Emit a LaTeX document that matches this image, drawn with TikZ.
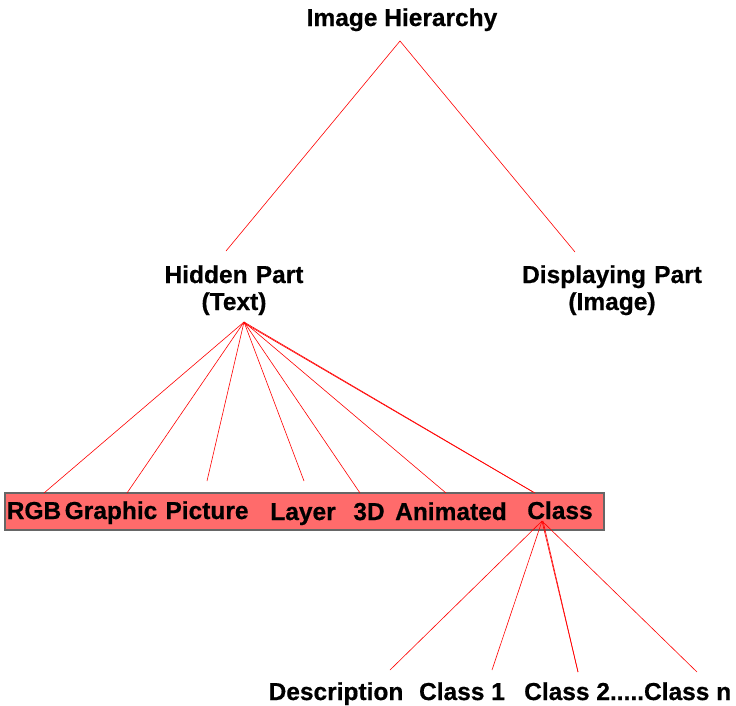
\documentclass[tikz,border=0pt]{standalone}
\usepackage{fontspec}
\setmainfont[BoldFeatures={FakeBold=0.6}]{Liberation Sans}
\begin{document}
\begin{tikzpicture}[x=1pt,y=-1pt,
  lbl/.style={font=\bfseries\fontsize{24.5}{27}\selectfont, inner sep=0pt, align=center, anchor=base},
  conn/.style={draw=red, line width=0.6pt}]
\useasboundingbox (0,0) rectangle (736,705);
% titles
\node[lbl] (root) at (402,26) {Image Hierarchy};
\coordinate (rootapex) at (400,41);
\coordinate (hidtop) at (226,251);
\coordinate (distop) at (575,252);
\draw[conn] (hidtop) -- (rootapex) -- (distop);
\node[lbl, text width=250pt] (hidden) at (234,283) {Hidden Part\\(Text)};
\node[lbl, text width=250pt] (disp) at (612,283) {Displaying Part\\(Image)};
% box
\node[draw=gray!80!black, line width=1.2pt, fill={rgb,255:red,255;green,107;blue,107}, minimum width=599pt, minimum height=37pt, inner sep=0pt] (bar) at (304.5,511.5) {};
\coordinate (hidapex) at (244,322);
\node[lbl] (rgb) at (34,519) {RGB};
\node[lbl] (graphic) at (111,519) {Graphic};
\node[lbl] (picture) at (207,519) {Picture};
\node[lbl] (layer) at (303,520) {Layer};
\node[lbl] (threed) at (369,520) {3D};
\node[lbl] (animated) at (451,520) {Animated};
\node[lbl] (class) at (560,519) {Class};
\coordinate (e1) at (44,493);
\coordinate (e2) at (127,493);
\coordinate (e3) at (207,481);
\coordinate (e4) at (304,481);
\coordinate (e5) at (360,493);
\coordinate (e6) at (446,493);
\coordinate (e7) at (535,493);
\coordinate (e7b) at (533,492);
\foreach \e in {e1,e2,e3,e4,e5,e6,e7}{\draw[conn] (hidapex) -- (\e);}
\draw[conn] (244,323) -- (e7b);
% class children
\coordinate (clapex) at (542,521);
\coordinate (c1) at (390,670);
\coordinate (c2) at (492,670);
\coordinate (c3) at (578,672);
\coordinate (c4) at (697,672);
\foreach \c in {c1,c2,c3,c4}{\draw[conn] (clapex) -- (\c);}
\draw[conn] (543,521) -- (c3);
\node[lbl] (desc) at (336,700) {Description};
\node[lbl] (class1) at (462,700) {Class 1};
\node[lbl, anchor=base west] (classn) at (524,700) {Class 2.....Class n};
\end{tikzpicture}
\end{document}
